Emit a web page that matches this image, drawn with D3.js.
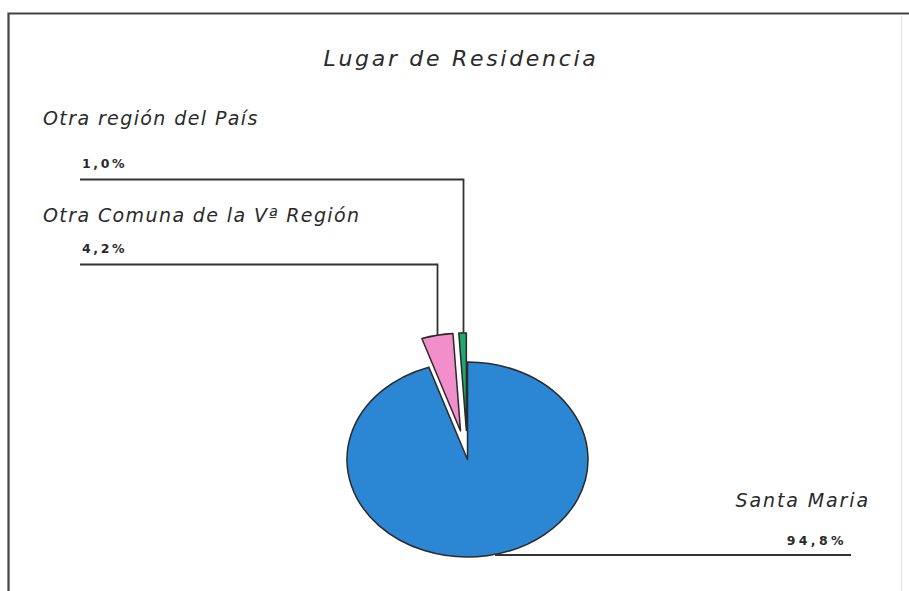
<!DOCTYPE html>
<html>
<head>
<meta charset="utf-8">
<script src="https://cdn.jsdelivr.net/npm/d3@7"></script>
<style>
  html, body { margin: 0; padding: 0; background: #fff; }
  svg { display: block; }
</style>
</head>
<body>
<svg id="chart" width="909" height="591"></svg>
<script>
// ---- data ----
const categories = ["Santa Maria", "Otra Comuna de la Vª Región", "Otra región del País"];
const values = [94.8, 4.2, 1.0];
const valueLabels = ["94,8%", "4,2%", "1,0%"];
const colors = ["#2b86d3", "#f28ec9", "#1fa872"];
const exploded = [false, true, true];
const title = "Lugar de Residencia";

// ---- layout ----
const W = 909, H = 591;
const cx = 467.5, cy = 459.5, rx = 120.5, ry = 97.5;
const yScale = ry / rx;
const explodeDist = 36;
const fontLabel = "'DejaVu Sans', 'Noto Sans', sans-serif";

const svg = d3.select("#chart");

// frame
svg.append("path")
  .attr("d", `M8.5,${H + 2} L8.5,13.5 L${W + 2},13.5`)
  .attr("fill", "none").attr("stroke", "#444").attr("stroke-width", 2.2);
svg.append("line")
  .attr("x1", 901.5).attr("x2", 901.5).attr("y1", 16).attr("y2", H)
  .attr("stroke", "#e2e2e2").attr("stroke-width", 1);

// title
svg.append("text")
  .attr("x", 461).attr("y", 66)
  .attr("text-anchor", "middle")
  .attr("font-family", fontLabel)
  .attr("font-style", "italic")
  .attr("font-size", 22)
  .attr("letter-spacing", 2.7)
  .attr("fill", "#2a2a2a")
  .text(title);

const pie = d3.pie().sort(null).value(d => d)(values);
const arc = d3.arc().innerRadius(0).outerRadius(rx);

function offsetOf(i) {
  if (!exploded[i]) return [0, 0];
  const a = (pie[i].startAngle + pie[i].endAngle) / 2;
  return [explodeDist * Math.sin(a), -explodeDist * Math.cos(a) * yScale];
}
function outerPoint(i) {
  const a = (pie[i].startAngle + pie[i].endAngle) / 2;
  const o = offsetOf(i);
  return [cx + o[0] + rx * Math.sin(a), cy + o[1] - ry * Math.cos(a)];
}

// slices
pie.forEach((p, i) => {
  const o = offsetOf(i);
  svg.append("g")
    .attr("transform", `translate(${cx + o[0]},${cy + o[1]}) scale(1,${yScale})`)
    .append("path")
    .attr("d", arc(p))
    .attr("fill", colors[i])
    .attr("stroke", "#2a2a2a")
    .attr("stroke-width", 1.5)
    .attr("vector-effect", "non-scaling-stroke")
    .attr("stroke-linejoin", "round");
});

// labels & leader lines
const labelSpec = [
  { nameX: 870, nameY: 507, anchor: "end", valX: 847, valY: 545, lineY: 555, lineEnd: 851 },
  { nameX: 43, nameY: 222, anchor: "start", valX: 82, valY: 253, lineY: 264.5, lineEnd: 80 },
  { nameX: 43, nameY: 125, anchor: "start", valX: 82, valY: 168, lineY: 179.5, lineEnd: 80 }
];

pie.forEach((p, i) => {
  const s = labelSpec[i];
  const pt = outerPoint(i);
  let d;
  if (i === 0) {
    d = `M${pt[0] + 8},${s.lineY} L${s.lineEnd},${s.lineY}`;
  } else {
    const x = Math.round(pt[0]) + 0.5;
    d = `M${x},${pt[1]} L${x},${s.lineY} L${s.lineEnd},${s.lineY}`;
  }
  svg.append("path").attr("d", d)
    .attr("fill", "none").attr("stroke", "#333").attr("stroke-width", 1.8);

  svg.append("text")
    .attr("x", s.nameX).attr("y", s.nameY)
    .attr("text-anchor", s.anchor)
    .attr("font-family", fontLabel)
    .attr("font-style", "italic")
    .attr("font-size", 19)
    .attr("letter-spacing", i === 0 ? 1.9 : 1.4)
    .attr("fill", "#2a2a2a")
    .text(categories[i]);

  svg.append("text")
    .attr("x", s.valX).attr("y", s.valY)
    .attr("text-anchor", s.anchor === "end" ? "end" : "start")
    .attr("font-family", fontLabel)
    .attr("font-weight", "bold")
    .attr("font-size", 12.5)
    .attr("letter-spacing", i === 0 ? 3.4 : 2.6)
    .attr("fill", "#2a2a2a")
    .text(valueLabels[i]);
});
</script>
</body>
</html>
